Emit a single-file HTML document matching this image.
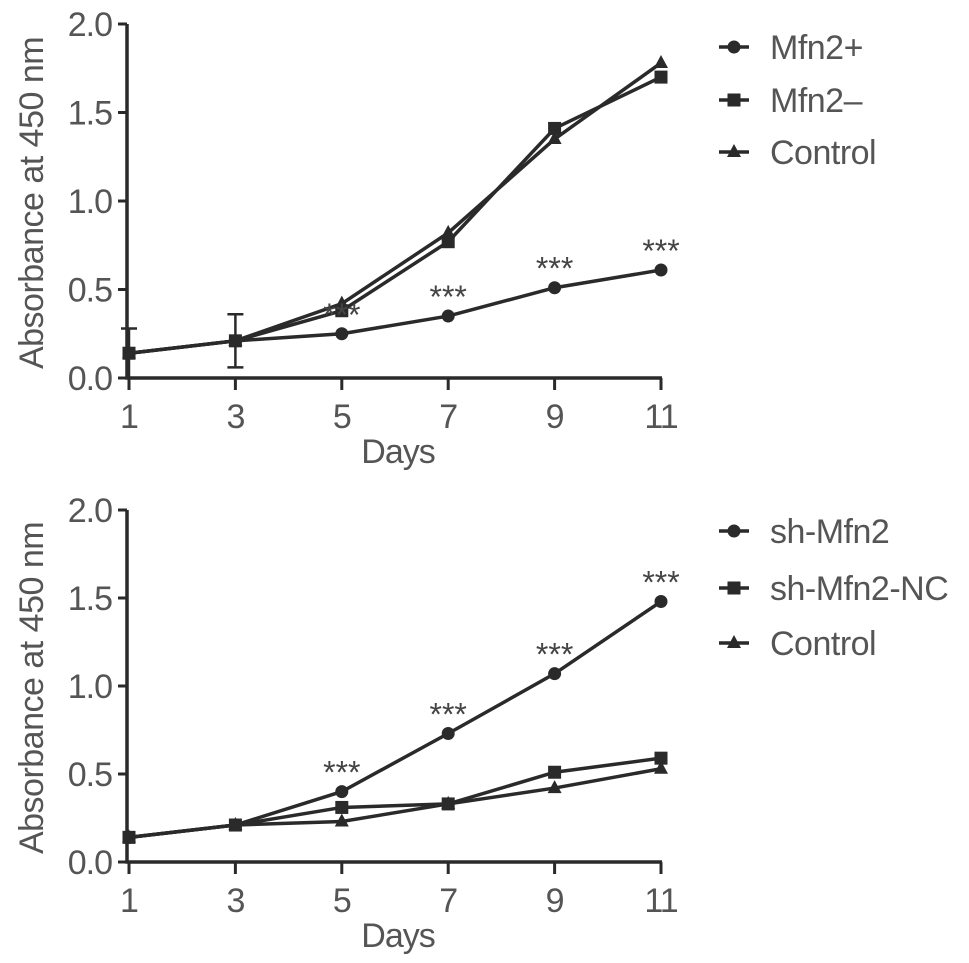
<!DOCTYPE html>
<html><head><meta charset="utf-8"><style>
html,body{margin:0;padding:0;background:#fff}
svg{display:block;font-family:"Liberation Sans",sans-serif}
</style></head><body>
<svg id="fig" width="969" height="963" viewBox="0 0 969 963"></svg>
<script>
const days=[1,3,5,7,9,11];
const yTicks=[0,0.5,1.0,1.5,2.0];
const yTickLabels=["0.0","0.5","1.0","1.5","2.0"];
const topNames=["Mfn2+","Mfn2\u2013","Control"];
const topMfn2Plus=[0.14,0.21,0.25,0.35,0.51,0.61];
const topMfn2Minus=[0.14,0.21,0.38,0.77,1.41,1.70];
const topControl=[0.14,0.21,0.42,0.82,1.35,1.78];
const topErr=[0.14,0.15,0,0,0,0];
const topStars=[false,false,true,true,true,true];
const botNames=["sh-Mfn2","sh-Mfn2-NC","Control"];
const botShMfn2=[0.14,0.21,0.40,0.73,1.07,1.48];
const botNC=[0.14,0.21,0.31,0.33,0.51,0.59];
const botControl=[0.14,0.21,0.23,0.33,0.42,0.53];
const botStars=[false,false,true,true,true,true];

const NS="http://www.w3.org/2000/svg";
const svg=document.getElementById('fig');
function mk(tag,attrs,parent){const e=document.createElementNS(NS,tag);for(const k in attrs)e.setAttribute(k,attrs[k]);(parent||svg).appendChild(e);return e;}
const C="#2a2a2a", T="#555";
const FS=34;

function marker(g,type,x,y){
  let m;
  if(type==0) m=mk('circle',{cx:x,cy:y,r:6.5,fill:C},g);
  else if(type==1) m=mk('rect',{x:x-6.5,y:y-6.5,width:13,height:13,fill:C},g);
  else m=mk('polygon',{points:`${x},${y-8} ${x+7},${y+5} ${x-7},${y+5}`,fill:C},g);
  return m;
}

function panel(name,y0,y2,series,names,stars,err,legY){
  const g=mk('g',{});
  
  
  const x1=129,x11=661;
  const X=d=>x1+(d-1)*(x11-x1)/10;
  const Y=v=>y0-(v/2)*(y0-y2);
  const ax=mk('path',{d:`M127 ${y2} V${y0} H${x11+1}`,stroke:C,'stroke-width':3.5,fill:'none'},g);
  
  
  yTicks.forEach((t,i)=>{
    mk('line',{x1:118,x2:127,y1:Y(t),y2:Y(t),stroke:C,'stroke-width':3},g);
    const tx=mk('text',{x:112,y:Y(t)+12,'text-anchor':'end','font-size':FS,fill:T,'letter-spacing':-1},g);
    tx.textContent=yTickLabels[i];
    
    
  });
  days.forEach(d=>{
    mk('line',{x1:X(d),x2:X(d),y1:y0,y2:y0+12,stroke:C,'stroke-width':3},g);
    const tx=mk('text',{x:X(d),y:y0+50,'text-anchor':'middle','font-size':FS,fill:T,'letter-spacing':-1},g);
    tx.textContent=d;
    
    
  });
  const xt=mk('text',{x:398,y:y0+85,'text-anchor':'middle','font-size':FS,fill:T,'letter-spacing':-1},g);
  xt.textContent='Days';
  
  
  const yc=(y0+y2)/2+2;
  const yt=mk('text',{x:0,y:0,'text-anchor':'middle','font-size':FS,fill:T,'letter-spacing':-0.5,transform:`translate(43 ${yc}) rotate(-90)`},g);
  yt.textContent='Absorbance at 450 nm';
  
  
  if(err){
    days.forEach((d,i)=>{
      if(!err[i]) return;
      const v=series[0][i];
      const e=mk('path',{d:`M${X(d)} ${Y(v-err[i])} V${Y(v+err[i])} M${X(d)-8} ${Y(v-err[i])} H${X(d)+8} M${X(d)-8} ${Y(v+err[i])} H${X(d)+8}`,stroke:C,'stroke-width':2.5,fill:'none'},g);
      
      
    });
  }
  for(let s=series.length-1;s>=0;s--){
    const sg=mk('g',{},g);
    
    
    const pts=days.map((d,i)=>`${X(d)},${Y(series[s][i])}`).join(' ');
    mk('polyline',{points:pts,fill:'none',stroke:C,'stroke-width':3.5},sg);
    days.forEach((d,i)=>{
      const m=marker(sg,s,X(d),Y(series[s][i]));
      
      
    });
  }
  days.forEach((d,i)=>{
    if(!stars[i]) return;
    const st=mk('text',{x:X(d),y:Y(series[0][i])-8,'text-anchor':'middle','font-size':32,fill:'#444'},g);
    st.textContent='***';
    
    
  });
  names.forEach((n,i)=>{
    const lg=mk('g',{},g);
    
    
    const ly=legY[i];
    mk('line',{x1:719,x2:749,y1:ly,y2:ly,stroke:C,'stroke-width':3.5},lg);
    marker(lg,i,734,ly);
    const t=mk('text',{x:770,y:ly+12,'font-size':FS,fill:T,'letter-spacing':-0.5},lg);
    t.textContent=n;
  });
}
panel('top-chart',378,24,[topMfn2Plus,topMfn2Minus,topControl],topNames,topStars,topErr,[47,100,152]);
panel('bottom-chart',862,510,[botShMfn2,botNC,botControl],botNames,botStars,null,[531,588,643]);
</script>
</body></html>
